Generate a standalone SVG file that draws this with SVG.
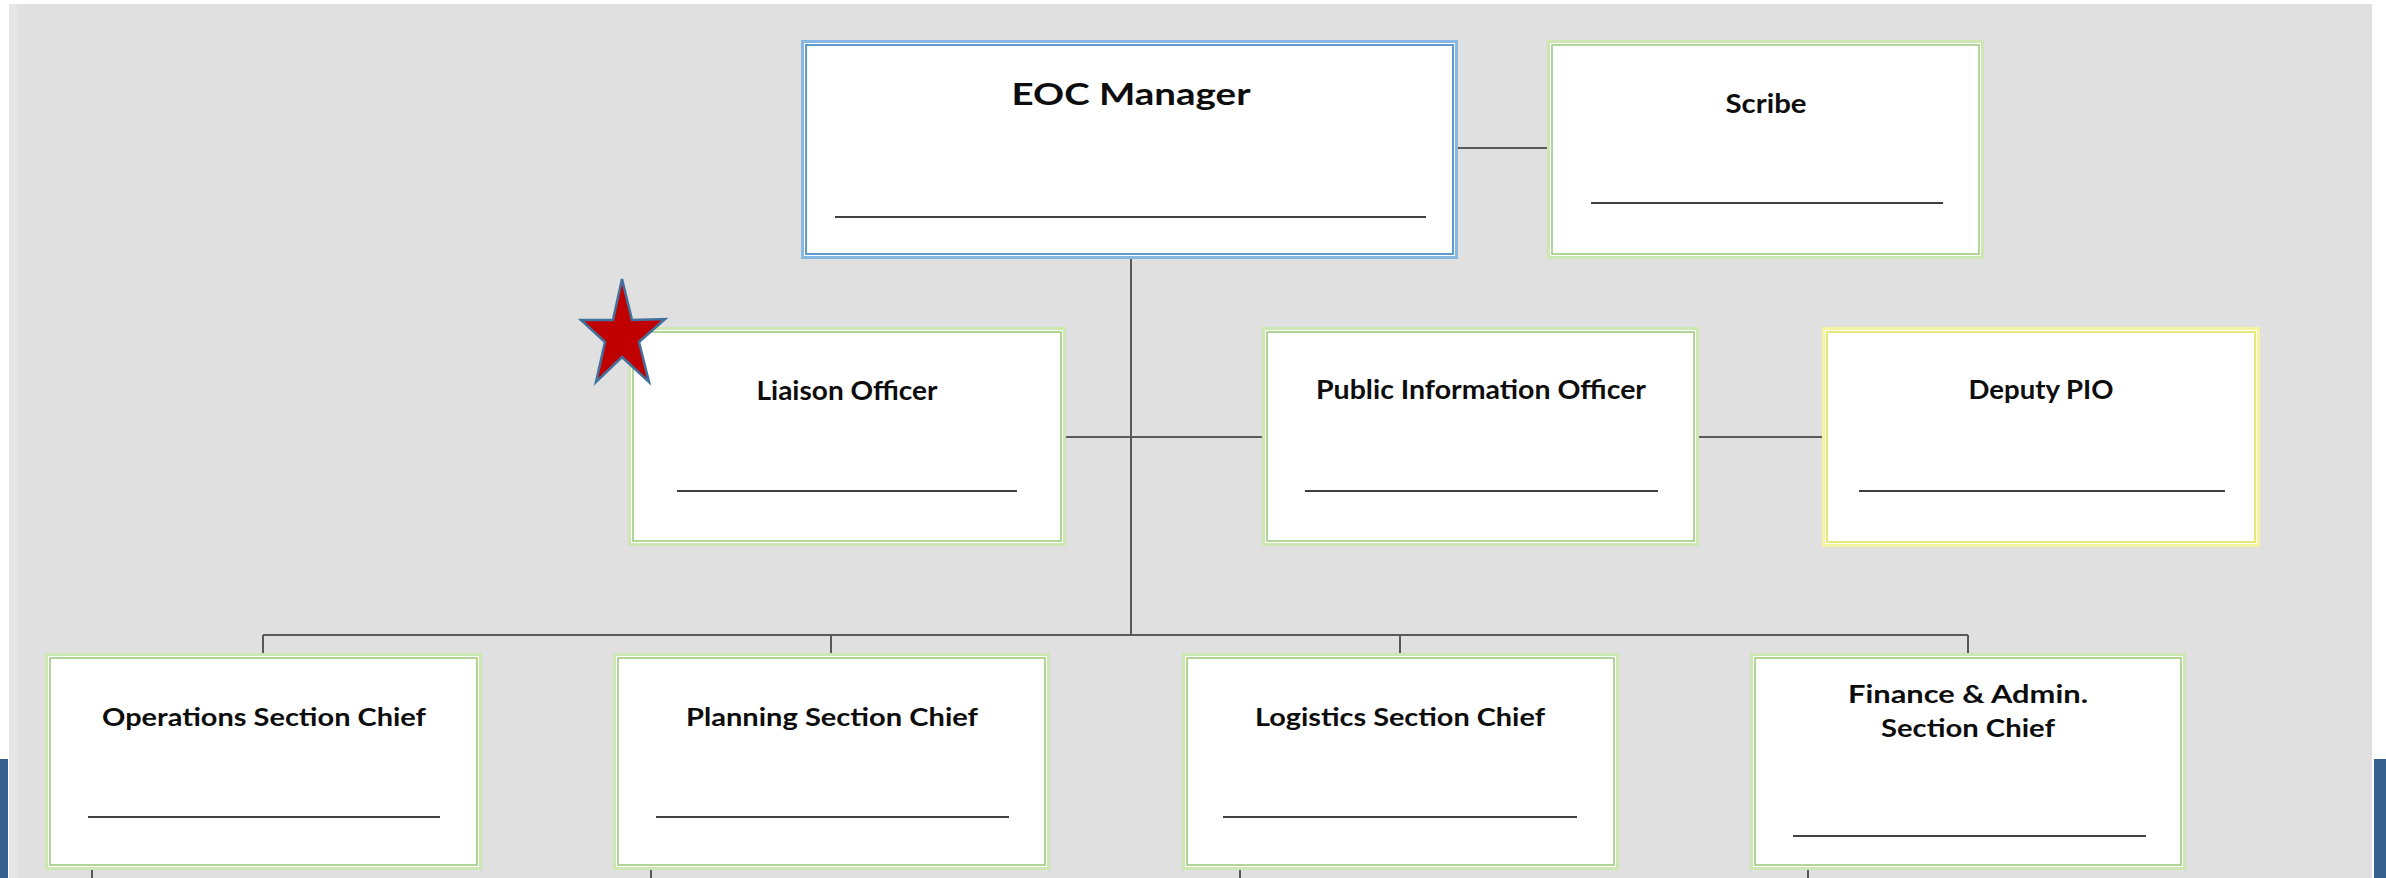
<svg xmlns="http://www.w3.org/2000/svg" width="2386" height="878" viewBox="0 0 2386 878">
<style>
.bg{fill:#e0e0e0}
.bar{fill:#36618f}
.card{fill:#ffffff}
.g-out{fill:none;stroke:#cde6b2;stroke-width:3}
.g-in{fill:none;stroke:#a9d18e;stroke-width:1.8}
.b-out{fill:none;stroke:#86b8e2;stroke-width:3}
.b-in{fill:none;stroke:#5f9bd0;stroke-width:2}
.y-out{fill:none;stroke:#f4f4a0;stroke-width:3}
.y-in{fill:none;stroke:#e6e66a;stroke-width:1.8}
.t{font-family:Lato,"Liberation Sans",sans-serif;font-weight:700;fill:#0d0d0d;text-anchor:middle}
.ul{stroke:#404040;stroke-width:2}
.conn{stroke:#595959;stroke-width:2;fill:none}
</style>
<rect x="0" y="0" width="2386" height="878" fill="#ffffff"/>
<rect class="bg" x="9" y="4" width="2363" height="874"/>
<rect x="9" y="4" width="8" height="874" fill="#e6e6e6"/>
<rect class="bar" x="0" y="759" width="8" height="119"/>
<rect class="bar" x="2374" y="759" width="12" height="119"/>

<g id="connectors">
<path class="conn" d="M1458 148H1548"/>
<path class="conn" d="M1131 259V635"/>
<path class="conn" d="M1066 437H1262"/>
<path class="conn" d="M1699 437H1822"/>
<path class="conn" d="M263 635H1968"/>
<path class="conn" d="M263 635V653M831 635V653M1400 635V653M1968 635V653"/>
<path class="conn" d="M92 870V878M651 870V878M1240 870V878M1808 870V878"/>
</g>

<g id="eoc-manager">
<rect class="card" x="801" y="40" width="657" height="219"/>
<rect class="b-out" x="802.5" y="41.5" width="654" height="216"/>
<rect class="b-in" x="806" y="45" width="647" height="209"/>
<text class="t" x="1131" y="105" font-size="31" textLength="239" lengthAdjust="spacingAndGlyphs">EOC Manager</text>
<line class="ul" x1="835" y1="217" x2="1426" y2="217"/>
</g>

<g id="scribe">
<rect class="card" x="1547" y="40" width="437" height="219"/>
<rect class="g-out" x="1548.5" y="41.5" width="434" height="216"/>
<rect class="g-in" x="1552" y="45" width="427" height="209"/>
<text class="t" x="1766" y="113" font-size="27" textLength="81" lengthAdjust="spacingAndGlyphs">Scribe</text>
<line class="ul" x1="1591" y1="203" x2="1943" y2="203"/>
</g>

<g id="liaison-officer">
<rect class="card" x="628" y="327" width="438" height="219"/>
<rect class="g-out" x="629.5" y="328.5" width="435" height="216"/>
<rect class="g-in" x="633" y="332" width="428" height="209"/>
<text class="t" x="847" y="400" font-size="26" textLength="181" lengthAdjust="spacingAndGlyphs">Liaison Officer</text>
<line class="ul" x1="677" y1="491" x2="1017" y2="491"/>
</g>

<g id="star">
<polygon points="622,279 632,320 665,319 639,342 649,382 622,357 596,382 605,342 581,320 613,320" fill="#c00000" stroke="#41719c" stroke-width="2.5" stroke-linejoin="miter"/>
</g>

<g id="public-information-officer">
<rect class="card" x="1262" y="327" width="437" height="219"/>
<rect class="g-out" x="1263.5" y="328.5" width="434" height="216"/>
<rect class="g-in" x="1267" y="332" width="427" height="209"/>
<text class="t" x="1481" y="399" font-size="26" textLength="330" lengthAdjust="spacingAndGlyphs">Public Information Officer</text>
<line class="ul" x1="1305" y1="491" x2="1658" y2="491"/>
</g>

<g id="deputy-pio">
<rect class="card" x="1822" y="327" width="438" height="220"/>
<rect class="y-out" x="1823.5" y="328.5" width="435" height="217"/>
<rect class="y-in" x="1827" y="332" width="428" height="210"/>
<text class="t" x="2041" y="399" font-size="26" textLength="145" lengthAdjust="spacingAndGlyphs">Deputy PIO</text>
<line class="ul" x1="1859" y1="491" x2="2225" y2="491"/>
</g>

<g id="operations-section-chief">
<rect class="card" x="45" y="653" width="437" height="217"/>
<rect class="g-out" x="46.5" y="654.5" width="434" height="214"/>
<rect class="g-in" x="50" y="658" width="427" height="207"/>
<text class="t" x="264" y="726" font-size="25" textLength="324" lengthAdjust="spacingAndGlyphs">Operations Section Chief</text>
<line class="ul" x1="88" y1="817" x2="440" y2="817"/>
</g>

<g id="planning-section-chief">
<rect class="card" x="613" y="653" width="437" height="217"/>
<rect class="g-out" x="614.5" y="654.5" width="434" height="214"/>
<rect class="g-in" x="618" y="658" width="427" height="207"/>
<text class="t" x="832" y="726" font-size="25" textLength="292" lengthAdjust="spacingAndGlyphs">Planning Section Chief</text>
<line class="ul" x1="656" y1="817" x2="1009" y2="817"/>
</g>

<g id="logistics-section-chief">
<rect class="card" x="1182" y="653" width="437" height="217"/>
<rect class="g-out" x="1183.5" y="654.5" width="434" height="214"/>
<rect class="g-in" x="1187" y="658" width="427" height="207"/>
<text class="t" x="1400" y="726" font-size="25" textLength="290" lengthAdjust="spacingAndGlyphs">Logistics Section Chief</text>
<line class="ul" x1="1223" y1="817" x2="1577" y2="817"/>
</g>

<g id="finance-admin-section-chief">
<rect class="card" x="1750" y="653" width="436" height="217"/>
<rect class="g-out" x="1751.5" y="654.5" width="433" height="214"/>
<rect class="g-in" x="1755" y="658" width="426" height="207"/>
<text class="t" x="1968" y="703" font-size="25" textLength="240" lengthAdjust="spacingAndGlyphs">Finance &amp; Admin.</text>
<text class="t" x="1968" y="737" font-size="25" textLength="174" lengthAdjust="spacingAndGlyphs">Section Chief</text>
<line class="ul" x1="1793" y1="836" x2="2146" y2="836"/>
</g>
</svg>
